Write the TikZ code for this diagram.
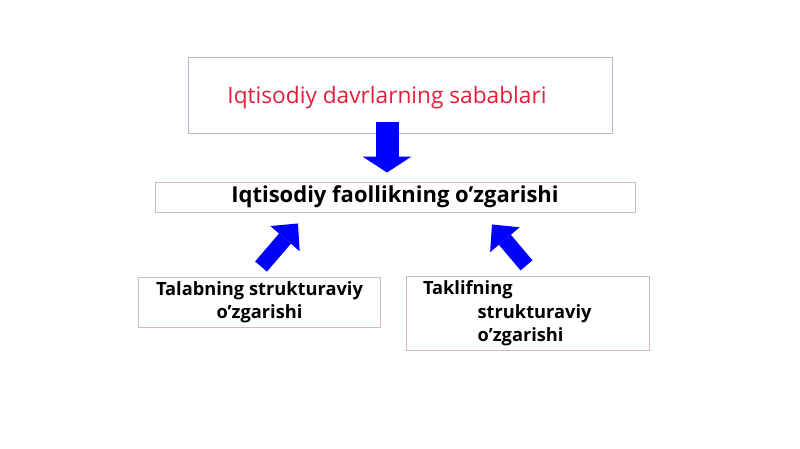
\documentclass[tikz,border=0pt]{standalone}
\usepackage{fontspec}
\setmainfont{Open Sans}
\usetikzlibrary{arrows.meta}
\definecolor{topline}{RGB}{176,186,206}
\definecolor{boxline}{RGB}{204,188,180}
\definecolor{redtext}{RGB}{226,30,58}
\begin{document}
\begin{tikzpicture}[x=0.75pt,y=-0.75pt,
  box/.style={draw=boxline,line width=0.7pt,inner sep=0pt},
  bigarrow/.style={blue,line width=#1}]
  \useasboundingbox (0,0) rectangle (800,449);
  \node[box,draw=topline,minimum width=318pt,minimum height=57pt] (top) at (400,95) {};
  \node[text=redtext,font=\fontsize{17}{20}\selectfont] (topText) at (387,98) {Iqtisodiy davrlarning sabablari};
  \node[box,minimum width=360pt,minimum height=22.5pt,font=\fontsize{16.5}{19}\bfseries] (mid) at (395,197) {Iqtisodiy faollikning o’zgarishi};
  \node[box,minimum width=182pt,minimum height=37.5pt,align=center,font=\fontsize{13.7}{17.25}\bfseries] (left) at (259.5,302) {Talabning strukturaviy\\o’zgarishi};
  \node[box,text width=156.75pt,inner xsep=12.75pt,minimum height=55pt,align=left,font=\fontsize{13.7}{17.6}\bfseries] (right) at (527.5,313.5) {Taklifning\\\hspace*{41pt}strukturaviy\\\hspace*{41pt}o’zgarishi};
  % block arrows
  \coordinate (dTail) at ([shift={(-13,-11)}]top.south);
  \coordinate (dTip) at ([shift={(-8,-9)}]mid.north);
  \coordinate (lTail) at ([shift={(1.5,-10)}]left.north);
  \coordinate (lTip) at ([shift={(-97,11)}]mid.south);
  \coordinate (rTail) at ([shift={(-1,-11)}]right.north);
  \coordinate (rTip) at ([shift={(97,12)}]mid.south);
  \draw[bigarrow=17.25pt,-{Triangle[length=12pt,width=36.75pt,line width=0pt]}] (dTail) -- (dTip);
  \draw[bigarrow=11.7pt,-{Triangle[length=15pt,width=29pt,line width=0pt]}] (lTail) -- (lTip);
  \draw[bigarrow=11.7pt,-{Triangle[length=15pt,width=29pt,line width=0pt]}] (rTail) -- (rTip);
\end{tikzpicture}
\end{document}
